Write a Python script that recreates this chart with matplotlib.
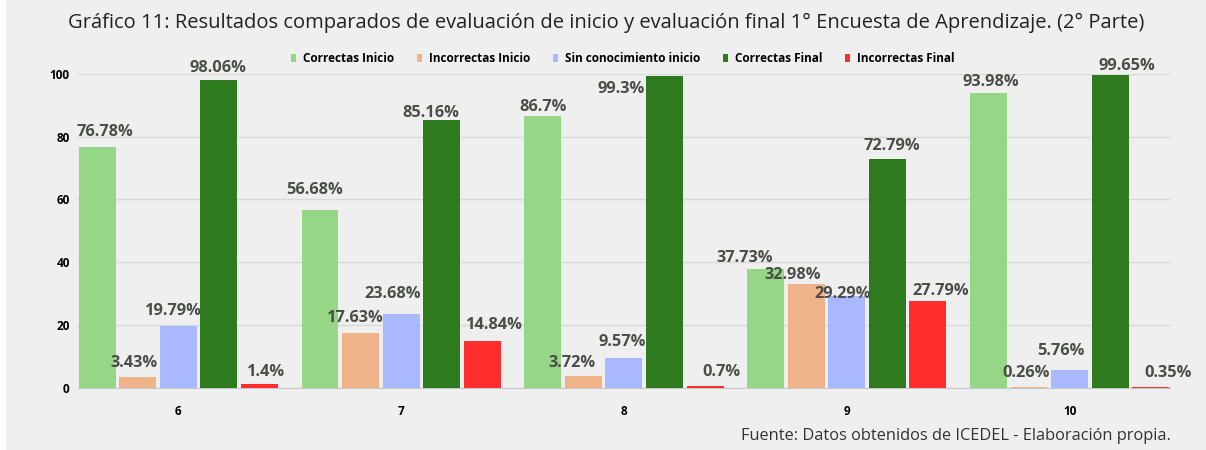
import numpy as np
import matplotlib
matplotlib.use("Agg")
import matplotlib.pyplot as plt
from matplotlib.patches import Rectangle

plt.rcParams.update({"font.family": ["Open Sans", "DejaVu Sans"]})

grupos = ["6", "7", "8", "9", "10"]
series = ["Correctas Inicio", "Incorrectas Inicio", "Sin conocimiento inicio",
          "Correctas Final", "Incorrectas Final"]
correctas_inicio = [76.78, 56.68, 86.7, 37.73, 93.98]
incorrectas_inicio = [3.43, 17.63, 3.72, 32.98, 0.26]
sin_conocimiento = [19.79, 23.68, 9.57, 29.29, 5.76]
correctas_final = [98.06, 85.16, 99.3, 72.79, 99.65]
incorrectas_final = [1.4, 14.84, 0.7, 27.79, 0.35]
valores = [correctas_inicio, incorrectas_inicio, sin_conocimiento,
           correctas_final, incorrectas_final]
colores = ["#95d786", "#efb38a", "#aab8ff", "#2e7a1f", "#ff2d2d"]

# label placement (pixels from bar centre / bar top), per series then group,
# mimics the collision-avoidance of the original tool
label_dx = [[8, -5, 0, -21, 2],
            [-4, -5, -11, -13, -3],
            [-5, -8, -2, -4, -9],
            [-1, -11, -43, 5, 17],
            [7, 12, 16, 13, 17]]
label_dy = [[15, 20, 9, 11, 11],
            [14, 15, 13, 9, 14],
            [15, 20, 16, 2, 19],
            [12, 7, -13, 13, 9],
            [12, 16, 14, 10, 14]]

BG = "#efefef"
fig = plt.figure(figsize=(12.06, 4.5), dpi=100, facecolor=BG)
# thin white strip on the left edge, as in the scanned original
fig.patches.append(Rectangle((0, 0), 6 / 1206, 1, transform=fig.transFigure,
                             facecolor="white", edgecolor="none"))
ax = fig.add_axes([0.0647, 0.138, 0.9053, 0.698])
ax.set_facecolor(BG)

x = np.arange(len(grupos))
step, width = 0.182, 0.166
for j, (nombre, vals, c) in enumerate(zip(series, valores, colores)):
    pos = x + (j - 2) * step
    ax.bar(pos, vals, width, color=c, label=nombre, zorder=3)
    for i, (px, v) in enumerate(zip(pos, vals)):
        ax.annotate(f"{v:g}%", (px, v), xytext=(label_dx[j][i], label_dy[j][i]),
                    textcoords="offset pixels", ha="center", va="center",
                    fontsize=11.8, fontweight="bold", color="#4a4d48",
                    zorder=4, annotation_clip=False)

ax.set_xlim(-0.45, 4.45)
ax.set_ylim(0, 100)
ax.set_yticks([0, 20, 40, 60, 80, 100])
ax.set_xticks(x)
ax.set_xticklabels(grupos)
ax.tick_params(axis="x", length=0, labelsize=8.5, pad=12)
ax.tick_params(axis="y", length=0, labelsize=8.5, pad=6)
for lbl in ax.get_xticklabels() + ax.get_yticklabels():
    lbl.set_fontweight("bold")
ax.grid(axis="y", color="#d9d9d9", lw=1, zorder=0)
for s in ["top", "right", "left"]:
    ax.spines[s].set_visible(False)
ax.spines["bottom"].set_color("#c8c8c8")
ax.spines["bottom"].set_zorder(2)

ax.legend(loc="center", bbox_to_anchor=(0.499, 1.048), ncol=5, frameon=False,
          handlelength=0.45, handleheight=0.7, handletextpad=0.6,
          columnspacing=1.9, prop={"weight": "bold", "size": 8.5})

fig.text(0.0564, 0.95, "Gráfico 11: Resultados comparados de evaluación de inicio y evaluación "
         "final 1° Encuesta de Aprendizaje. (2° Parte)", fontsize=14.5, color="#222222",
         ha="left", va="center")
fig.text(0.971, 0.03, "Fuente: Datos obtenidos de ICEDEL - Elaboración propia.",
         fontsize=11.8, color="#333333", ha="right", va="center")

fig.savefig("out.png", dpi=100, facecolor=BG)
